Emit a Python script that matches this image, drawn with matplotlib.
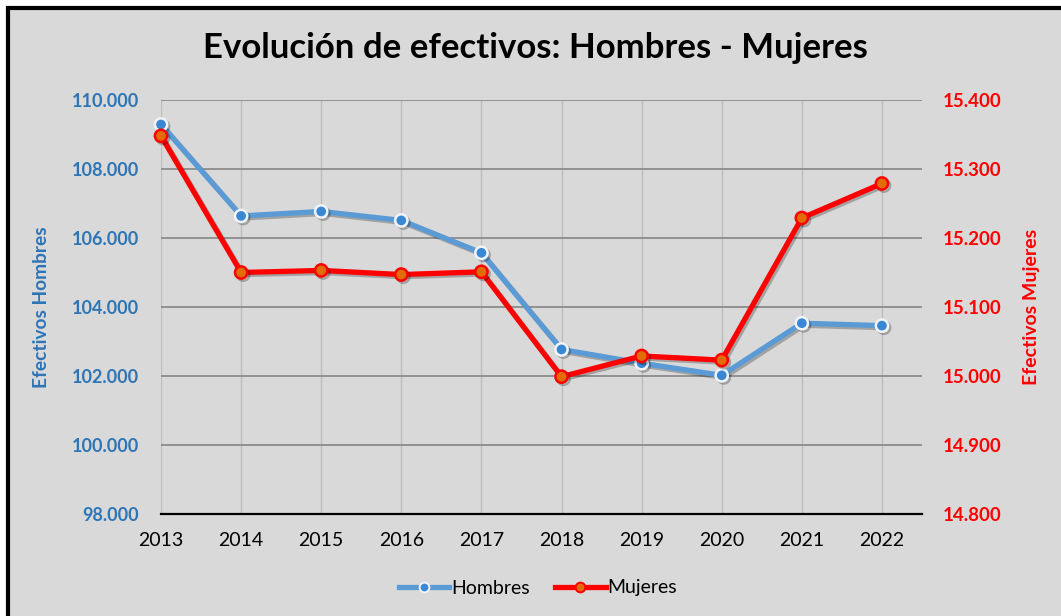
import matplotlib
matplotlib.use("Agg")
import matplotlib.pyplot as plt
import matplotlib.patheffects as pe
from matplotlib.lines import Line2D
from matplotlib.patches import Rectangle
from matplotlib.ticker import FuncFormatter

years = [2013, 2014, 2015, 2016, 2017, 2018, 2019, 2020, 2021, 2022]
hombres = [109290, 106640, 106770, 106510, 105570, 102770, 102370, 102020, 103530, 103460]
mujeres = [15348, 15150, 15153, 15147, 15151, 14999, 15029, 15023, 15229, 15279]
left_ticks = [98000, 100000, 102000, 104000, 106000, 108000, 110000]
right_ticks = [14800, 14900, 15000, 15100, 15200, 15300, 15400]

FONT = ["Lato", "DejaVu Sans"]
plt.rcParams['font.family'] = FONT

W, H = 1061, 616
fig = plt.figure(figsize=(W / 100, H / 100), dpi=100)
fig.patch.set_facecolor("white")
bg = "#d9d9d9"
fig.patches.append(Rectangle((8 / W, -0.1), 1.2, 1 - 8 / H + 0.1, transform=fig.transFigure,
                             facecolor=bg, edgecolor="black", linewidth=3, zorder=-10))

ax = fig.add_axes([161 / W, 1 - 514 / H, (922 - 161) / W, (514 - 100) / H])
ax.set_facecolor(bg)
ax2 = ax.twinx()

blue_line = "#5b9bd5"
blue_mark = "#3a87d3"
blue_text = "#2e75b6"
red = "#ff0000"
orange = "#e36c0a"

shadow = [pe.SimpleLineShadow(offset=(1.5, -1.5), alpha=0.25, shadow_color="black"), pe.Normal()]

ax.plot(years, hombres, color=blue_line, lw=3.8, marker="o", markersize=8.8,
        markerfacecolor=blue_mark, markeredgecolor="#f0f3f7", markeredgewidth=1.8,
        path_effects=shadow, zorder=3, clip_on=False)
ax2.plot(years, mujeres, color=red, lw=3.8, marker="o", markersize=8.8,
         markerfacecolor=orange, markeredgecolor=red, markeredgewidth=1.8,
         path_effects=shadow, zorder=3, clip_on=False)

ax.set_xlim(2013, 2022.5)
ax.set_ylim(98000, 110000)
ax2.set_ylim(14800, 15400)
ax.set_xticks(years)
ax.set_yticks(left_ticks)
ax2.set_yticks(right_ticks)

fmt = FuncFormatter(lambda v, p: f"{int(v):,}".replace(",", "."))
ax.yaxis.set_major_formatter(fmt)
ax2.yaxis.set_major_formatter(fmt)

ax.grid(axis="y", color="#8c8c8c", lw=1.3)
ax.grid(axis="x", color="#bdbdbd", lw=1.0)
ax.set_axisbelow(True)

for a in (ax, ax2):
    for s in a.spines.values():
        s.set_visible(False)
ax.spines["bottom"].set_visible(True)
ax.spines["bottom"].set_color("black")
ax.spines["bottom"].set_linewidth(1.6)
ax.spines["bottom"].set_zorder(2)

ax.tick_params(axis="x", length=0, pad=13, labelsize=14, labelcolor="black")
ax.tick_params(axis="y", length=0, pad=16, labelsize=13, labelcolor=blue_text)
ax2.tick_params(axis="y", length=0, pad=15, labelsize=13.5, labelcolor=red)
for lab in ax.get_yticklabels():
    lab.set_fontweight("bold")
for lab in ax2.get_yticklabels():
    lab.set_fontweight("bold")

ax.set_ylabel("Efectivos Hombres", color=blue_text, fontsize=13.8, fontweight="bold")
ax.yaxis.set_label_coords((50 - 161) / 761, 0.5)
ax2.set_ylabel("Efectivos Mujeres", color=red, fontsize=14, fontweight="bold")
ax2.yaxis.set_label_coords((1023 - 161) / 761, 0.5)

fig.text(535 / W, 1 - 48 / H, "Evolución de efectivos: Hombres - Mujeres",
         ha="center", va="center", fontsize=25, fontweight="bold", color="black")

handles = [
    Line2D([], [], color=blue_line, lw=3.8, marker="o", markersize=7,
           markerfacecolor=blue_mark, markeredgecolor="#f0f3f7", markeredgewidth=1.4),
    Line2D([], [], color=red, lw=3.8, marker="o", markersize=7,
           markerfacecolor=orange, markeredgecolor=red, markeredgewidth=1.4),
]
leg = fig.legend(handles, ["Hombres", "Mujeres"], loc="center", bbox_to_anchor=(538 / W, 1 - 588 / H),
                 ncol=2, frameon=False, fontsize=14, handlelength=2.6, handletextpad=0.1,
                 columnspacing=1.3)

fig.savefig("out.png", dpi=100, facecolor=fig.get_facecolor())
